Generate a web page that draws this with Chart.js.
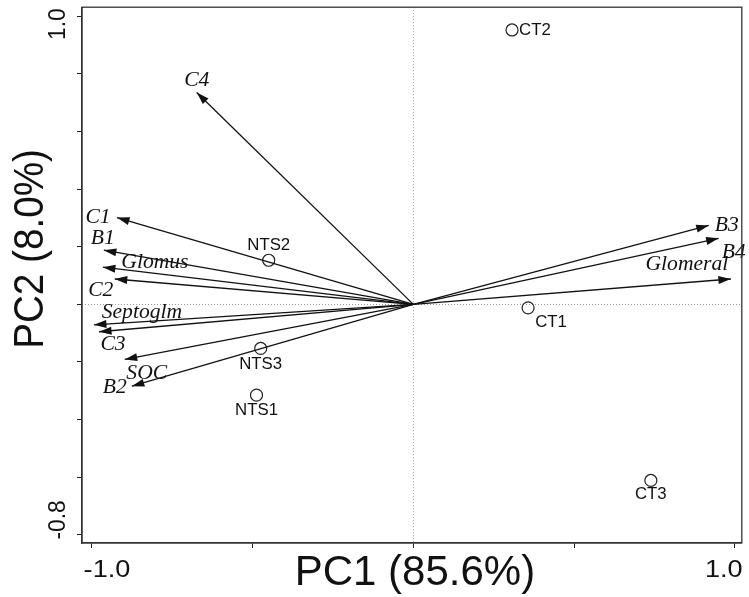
<!DOCTYPE html>
<html>
<head>
<meta charset="utf-8">
<script src="https://cdn.jsdelivr.net/npm/chart.js@4/dist/chart.umd.min.js"></script>
<style>
  html, body { margin: 0; padding: 0; background: #fff; }
  #wrap { width: 749px; height: 597px; position: relative; }
</style>
</head>
<body>
<div id="wrap"><canvas id="c" width="749" height="597"></canvas></div>
<script>
// ---- data ----
const sampleNames = ['CT1', 'CT2', 'CT3', 'NTS1', 'NTS2', 'NTS3'];
const sampleX = [0.357, 0.307, 0.739, -0.488, -0.450, -0.475];
const sampleY = [-0.012, 0.952, -0.611, -0.315, 0.153, -0.153];

const varNames = ['C4', 'C1', 'B1', 'Glomus', 'C2', 'Septoglm', 'C3', 'SOC', 'B2', 'B3', 'B4', 'Glomeral'];
const varX = [-0.674, -0.922, -0.963, -0.966, -0.929, -0.994, -0.978, -0.898, -0.876, 0.919, 0.950, 0.988];
const varY = [0.735, 0.301, 0.188, 0.129, 0.088, -0.071, -0.095, -0.191, -0.284, 0.274, 0.229, 0.088];

const xTicks = [-1.0, -0.5, 0, 0.5, 1.0];
const xTickLabels = ['-1.0', '', '', '', '1.0'];
const yTicks = [-0.8, -0.6, -0.4, -0.2, 0, 0.2, 0.4, 0.6, 0.8, 1.0];
const yTickLabels = ['-0.8', '', '', '', '', '', '', '', '', '1.0'];

const xTitle = 'PC1 (85.6%)';
const yTitle = 'PC2 (8.0%)';

// ---- styles (pixel offsets for labels) ----
const varLabelOffset = [[0,-12],[-19,0],[-1,-11],[52,-4],[-14,12],[48,-12],[14,13],[22,14],[-17,2],[18,0],[15,14],[-44,-14]];
const sampleLabelOffset = [[23,15,'c'],[7,1,'l'],[0,14,'c'],[0,15,'c'],[0,-15,'c'],[0,16,'c']];
const xTickLabelShift = [15, 0, 0, 0, -11];
const yTickLabelShift = [-15, 0, 0, 0, 0, 0, 0, 0, 0, 8];

const LINE = '#111';

function stretchedText(ctx, text, x, y, font, sx, align, baseline, rot) {
  ctx.save();
  ctx.translate(x, y);
  if (rot) ctx.rotate(rot);
  ctx.scale(sx, 1);
  ctx.font = font;
  ctx.textAlign = align || 'center';
  ctx.textBaseline = baseline || 'middle';
  ctx.fillStyle = '#111';
  ctx.fillText(text, 0, 0);
  ctx.restore();
}

const datasets = varNames.map((n, i) => ({
  label: n,
  data: [{x: 0, y: 0}, {x: varX[i], y: varY[i]}],
  showLine: true,
  borderColor: LINE,
  borderWidth: 1.3,
  pointRadius: 0,
  fill: false,
  tension: 0,
  isArrow: true
}));
datasets.push({
  label: 'samples',
  data: sampleX.map((x, i) => ({x: x, y: sampleY[i]})),
  showLine: false,
  pointStyle: 'circle',
  pointRadius: 6,
  pointBorderWidth: 1.2,
  pointBorderColor: '#222',
  pointBackgroundColor: 'rgba(0,0,0,0)'
});

const biplotPlugin = {
  id: 'biplot',
  beforeDatasetsDraw(chart) {
    const {ctx, chartArea: a, scales: {x, y}} = chart;
    ctx.save();
    ctx.strokeStyle = '#9a9a9a';
    ctx.lineWidth = 1;
    ctx.setLineDash([1, 2]);
    const x0 = Math.round(x.getPixelForValue(0)) + 0.5;
    const y0 = Math.round(y.getPixelForValue(0)) + 0.5;
    ctx.beginPath();
    ctx.moveTo(x0, a.top); ctx.lineTo(x0, a.bottom);
    ctx.moveTo(a.left, y0); ctx.lineTo(a.right, y0);
    ctx.stroke();
    ctx.restore();
  },
  afterDatasetsDraw(chart) {
    const {ctx, chartArea: a, scales: {x, y}} = chart;
    chart.data.datasets.forEach((ds, i) => {
      if (!ds.isArrow) return;
      const meta = chart.getDatasetMeta(i);
      const p0 = meta.data[0], p1 = meta.data[1];
      const ang = Math.atan2(p1.y - p0.y, p1.x - p0.x);
      const L = 12.5, W = 4;
      ctx.save();
      ctx.translate(p1.x, p1.y);
      ctx.rotate(ang);
      ctx.beginPath();
      ctx.moveTo(0, 0);
      ctx.lineTo(-L, -W);
      ctx.lineTo(-L, W);
      ctx.closePath();
      ctx.fillStyle = '#111';
      ctx.fill();
      ctx.restore();
      const off = varLabelOffset[i];
      stretchedText(ctx, varNames[i], p1.x + off[0], p1.y + off[1],
        'italic 20px "Liberation Serif", "DejaVu Serif", serif', 1.08, 'center', 'middle');
    });
    const sIdx = chart.data.datasets.length - 1;
    const sm = chart.getDatasetMeta(sIdx);
    sm.data.forEach((pt, i) => {
      const o = sampleLabelOffset[i];
      stretchedText(ctx, sampleNames[i], pt.x + o[0], pt.y + o[1],
        '16px "Liberation Sans", Arial, sans-serif', 1.05, o[2] === 'l' ? 'left' : 'center', 'middle');
    });
    ctx.save();
    ctx.strokeStyle = '#333';
    ctx.lineWidth = 1.3;
    ctx.strokeRect(a.left, a.top, a.right - a.left, a.bottom - a.top);
    ctx.restore();
    xTicks.forEach((v, i) => {
      if (!xTickLabels[i]) return;
      stretchedText(ctx, xTickLabels[i], x.getPixelForValue(v) + xTickLabelShift[i], 577,
        '24px "Liberation Sans", Arial, sans-serif', 1.13, 'center', 'alphabetic');
    });
    yTicks.forEach((v, i) => {
      if (!yTickLabels[i]) return;
      stretchedText(ctx, yTickLabels[i], 65, y.getPixelForValue(v) + yTickLabelShift[i],
        '24px "Liberation Sans", Arial, sans-serif', 0.95, 'center', 'alphabetic', -Math.PI / 2);
    });
    stretchedText(ctx, xTitle, (a.left + a.right) / 2 + 3, 585,
      '42px "Liberation Sans", Arial, sans-serif', 1.0, 'center', 'alphabetic');
    stretchedText(ctx, yTitle, 43, 249,
      '42px "Liberation Sans", Arial, sans-serif', 0.92, 'center', 'alphabetic', -Math.PI / 2);
  }
};

new Chart(document.getElementById('c'), {
  type: 'scatter',
  data: {datasets: datasets},
  options: {
    responsive: false,
    animation: false,
    layout: {padding: {top: 3, right: 6, left: 0, bottom: 0}},
    plugins: {legend: {display: false}, tooltip: {enabled: false}},
    scales: {
      x: {
        type: 'linear', min: -1.031, max: 1.022,
        afterBuildTicks: s => { s.ticks = xTicks.map(v => ({value: v})); },
        afterFit: s => { s.height = 54; },
        ticks: {autoSkip: false, callback: () => '', padding: 0},
        grid: {drawOnChartArea: false, drawTicks: true, tickLength: 5, color: '#222', lineWidth: 1},
        border: {display: true, color: '#333', width: 1.3},
        title: {display: false, text: xTitle}
      },
      y: {
        type: 'linear', min: -0.828, max: 1.031,
        afterBuildTicks: s => { s.ticks = yTicks.map(v => ({value: v})); },
        afterFit: s => { s.width = 82; },
        ticks: {autoSkip: false, callback: () => '', padding: 0},
        grid: {drawOnChartArea: false, drawTicks: true, tickLength: 5, color: '#222', lineWidth: 1},
        border: {display: true, color: '#333', width: 1.3},
        title: {display: false, text: yTitle}
      }
    }
  },
  plugins: [biplotPlugin]
});
</script>
</body>
</html>
